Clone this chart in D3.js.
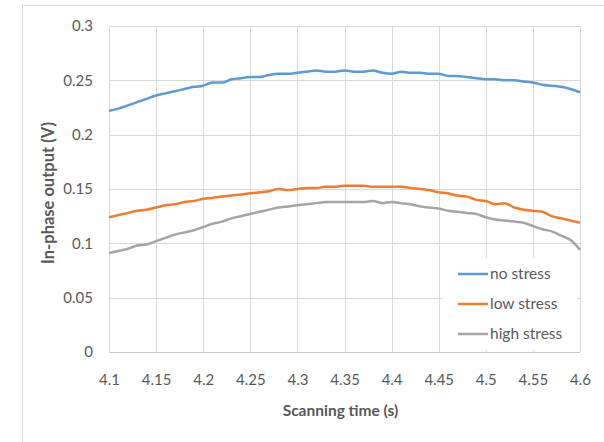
<!DOCTYPE html>
<html>
<head>
<meta charset="utf-8"/>
<title>In-phase output vs scanning time</title>
<script src="https://d3js.org/d3.v7.min.js"></script>
<style>
  body { margin: 0; background: #fff; }
  svg text { font-family: "Lato", "Open Sans", sans-serif; fill: #595959; }
  .ttl { font-weight: bold; }
</style>
</head>
<body>
<svg id="chart" width="604" height="442"></svg>
<script>
// scanning time (s)
var times = [4.10, 4.11, 4.12, 4.13, 4.14, 4.15, 4.16, 4.17, 4.18, 4.19,
             4.20, 4.21, 4.22, 4.23, 4.24, 4.25, 4.26, 4.27, 4.28, 4.29,
             4.30, 4.31, 4.32, 4.33, 4.34, 4.35, 4.36, 4.37, 4.38, 4.39,
             4.40, 4.41, 4.42, 4.43, 4.44, 4.45, 4.46, 4.47, 4.48, 4.49,
             4.50, 4.51, 4.52, 4.53, 4.54, 4.55, 4.56, 4.57, 4.58, 4.59, 4.60];

var noStress = [0.222, 0.224, 0.227, 0.230, 0.233, 0.236, 0.238, 0.240, 0.242, 0.244,
                0.245, 0.248, 0.248, 0.251, 0.252, 0.253, 0.253, 0.255, 0.256, 0.256,
                0.257, 0.258, 0.259, 0.258, 0.258, 0.259, 0.258, 0.258, 0.259, 0.257,
                0.256, 0.258, 0.257, 0.257, 0.256, 0.256, 0.254, 0.254, 0.253, 0.252,
                0.251, 0.251, 0.250, 0.250, 0.249, 0.248, 0.246, 0.245, 0.244, 0.242, 0.239];

var lowStress = [0.124, 0.126, 0.128, 0.130, 0.131, 0.133, 0.135, 0.136, 0.138, 0.139,
                 0.141, 0.142, 0.143, 0.144, 0.145, 0.146, 0.147, 0.148, 0.150, 0.149,
                 0.150, 0.151, 0.151, 0.152, 0.152, 0.153, 0.153, 0.153, 0.152, 0.152,
                 0.152, 0.152, 0.151, 0.150, 0.149, 0.147, 0.146, 0.144, 0.143, 0.140,
                 0.139, 0.136, 0.137, 0.133, 0.131, 0.130, 0.129, 0.125, 0.123, 0.121, 0.119];

var highStress = [0.091, 0.093, 0.095, 0.098, 0.099, 0.102, 0.105, 0.108, 0.110, 0.112,
                  0.115, 0.118, 0.120, 0.123, 0.125, 0.127, 0.129, 0.131, 0.133, 0.134,
                  0.135, 0.136, 0.137, 0.138, 0.138, 0.138, 0.138, 0.138, 0.139, 0.137,
                  0.138, 0.137, 0.136, 0.134, 0.133, 0.132, 0.130, 0.129, 0.128, 0.127,
                  0.124, 0.122, 0.121, 0.120, 0.119, 0.116, 0.113, 0.111, 0.107, 0.103, 0.094];

var seriesNames = ["no stress", "low stress", "high stress"];
var seriesColors = ["#5B9BD5", "#ED7D31", "#A5A5A5"];
var xTicks = [4.1, 4.15, 4.2, 4.25, 4.3, 4.35, 4.4, 4.45, 4.5, 4.55, 4.6];
var yTicks = [0, 0.05, 0.1, 0.15, 0.2, 0.25, 0.3];

var svg = d3.select("#chart");
var plotL = 109, plotR = 580, plotT = 26, plotB = 352;

var x = d3.scaleLinear().domain([4.1, 4.6]).range([plotL, plotR]);
var y = d3.scaleLinear().domain([0, 0.3]).range([plotB, plotT]);

// outer chart frame (runs off the page on right and bottom)
svg.append("rect")
    .attr("x", 22.5).attr("y", 5.5)
    .attr("width", 700).attr("height", 600)
    .attr("fill", "none").attr("stroke", "#d9d9d9");

// grid
svg.append("g").selectAll("line").data(xTicks).enter().append("line")
    .attr("x1", function(d){ return Math.round(x(d)) + 0.5; })
    .attr("x2", function(d){ return Math.round(x(d)) + 0.5; })
    .attr("y1", plotT).attr("y2", plotB)
    .attr("stroke", "#d9d9d9");
svg.append("g").selectAll("line").data(yTicks).enter().append("line")
    .attr("y1", function(d){ return Math.round(y(d)) + 0.5; })
    .attr("y2", function(d){ return Math.round(y(d)) + 0.5; })
    .attr("x1", plotL).attr("x2", plotR)
    .attr("stroke", function(d){ return d == 0 ? "#c8c8c8" : "#d9d9d9"; });

// tick labels via d3 axes
var xAxis = svg.append("g")
    .attr("transform", "translate(0," + plotB + ")")
    .call(d3.axisBottom(x).tickValues(xTicks).tickSize(0).tickPadding(22)
        .tickFormat(function(d){ return String(+d.toFixed(2)); }));
var yAxis = svg.append("g")
    .attr("transform", "translate(" + plotL + ",0)")
    .call(d3.axisLeft(y).tickValues(yTicks).tickSize(0).tickPadding(16)
        .tickFormat(function(d){ return String(+d.toFixed(2)); }));
svg.selectAll(".domain").remove();
svg.selectAll(".tick text")
    .attr("font-family", "Lato, 'Open Sans', sans-serif")
    .attr("font-size", 15).attr("fill", "#595959");
xAxis.selectAll(".tick text").attr("dy", "0.32em").attr("y", 28);

// lines
var allSeries = [noStress, lowStress, highStress];
var line = d3.line()
    .x(function(d, i){ return x(times[i]); })
    .y(function(d){ return y(d); })
    .curve(d3.curveMonotoneX);

svg.append("g").selectAll("path").data(allSeries).enter().append("path")
    .attr("d", line)
    .attr("fill", "none")
    .attr("stroke", function(d, i){ return seriesColors[i]; })
    .attr("stroke-width", 2.5)
    .attr("stroke-linejoin", "round");

// legend
var lg = svg.append("g");
lg.append("rect")
    .attr("x", 443).attr("y", 258).attr("width", 134).attr("height", 92)
    .attr("fill", "#fff");
var items = lg.selectAll("g.item").data(seriesNames).enter().append("g")
    .attr("transform", function(d, i){ return "translate(458," + (274 + i * 30) + ")"; });
items.append("line")
    .attr("x1", 0).attr("x2", 30)
    .attr("stroke", function(d, i){ return seriesColors[i]; })
    .attr("stroke-width", 2.5);
items.append("text")
    .attr("x", 32).attr("dy", "0.35em")
    .attr("font-size", 15.5)
    .text(function(d){ return d; });

// titles
svg.append("text").attr("class", "ttl")
    .attr("x", (plotL + plotR) / 2 - 4).attr("y", 416)
    .attr("text-anchor", "middle")
    .attr("font-size", 15.5)
    .text("Scanning time (s)");
svg.append("text").attr("class", "ttl")
    .attr("transform", "translate(54," + ((plotT + plotB) / 2 + 4) + ") rotate(-90)")
    .attr("text-anchor", "middle")
    .attr("font-size", 16.5)
    .text("In-phase output (V)");
</script>
</body>
</html>
